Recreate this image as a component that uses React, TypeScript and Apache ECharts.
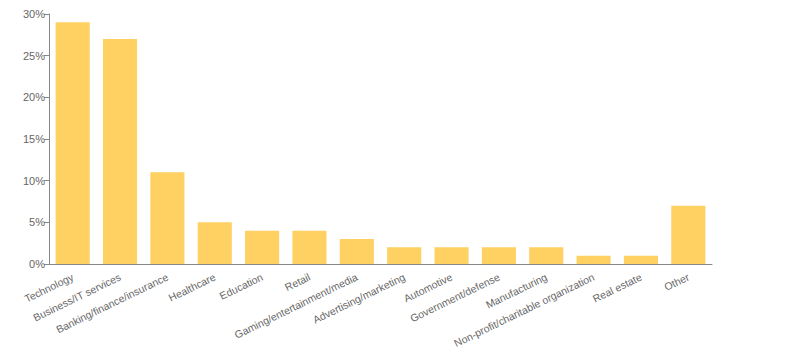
import React, { useEffect, useRef } from "react";
import * as echarts from "echarts";

const categories = [
  "Technology",
  "Business/IT services",
  "Banking/finance/insurance",
  "Healthcare",
  "Education",
  "Retail",
  "Gaming/entertainment/media",
  "Advertising/marketing",
  "Automotive",
  "Government/defense",
  "Manufacturing",
  "Non-profit/charitable organization",
  "Real estate",
  "Other",
];
const values = [29, 27, 11, 5, 4, 4, 3, 2, 2, 2, 2, 1, 1, 7];

export default function App() {
  const ref = useRef<HTMLDivElement>(null);
  useEffect(() => {
    if (!ref.current) return;
    const chart = echarts.init(ref.current, null, { renderer: "svg" });
    chart.setOption({
      animation: false,
      grid: { left: 49, right: 82, top: 14, bottom: 97 },
      xAxis: {
        type: "category",
        data: categories,
        axisLine: { lineStyle: { color: "#888" } },
        axisTick: { alignWithLabel: false, length: 5, lineStyle: { color: "#888" } },
        axisLabel: {
          rotate: 26,
          interval: 0,
          color: "#666",
          fontSize: 10.5,
          fontFamily: "Liberation Sans, Arial, sans-serif",
          margin: 12,
        },
      },
      yAxis: {
        type: "value",
        min: 0,
        max: 30,
        interval: 5,
        axisLine: { show: true, lineStyle: { color: "#888" } },
        axisTick: { show: true, length: 5, lineStyle: { color: "#888" } },
        splitLine: { show: false },
        axisLabel: {
          formatter: "{value}%",
          color: "#666",
          fontSize: 11,
          fontFamily: "Liberation Sans, Arial, sans-serif",
          margin: 4,
        },
      },
      series: [
        {
          type: "bar",
          data: values,
          barCategoryGap: "28%",
          itemStyle: { color: "#ffd062" },
        },
      ],
    });
    return () => chart.dispose();
  }, []);
  return <div ref={ref} style={{ width: 794, height: 361, position: "absolute", left: 0, top: 0 }} />;
}
